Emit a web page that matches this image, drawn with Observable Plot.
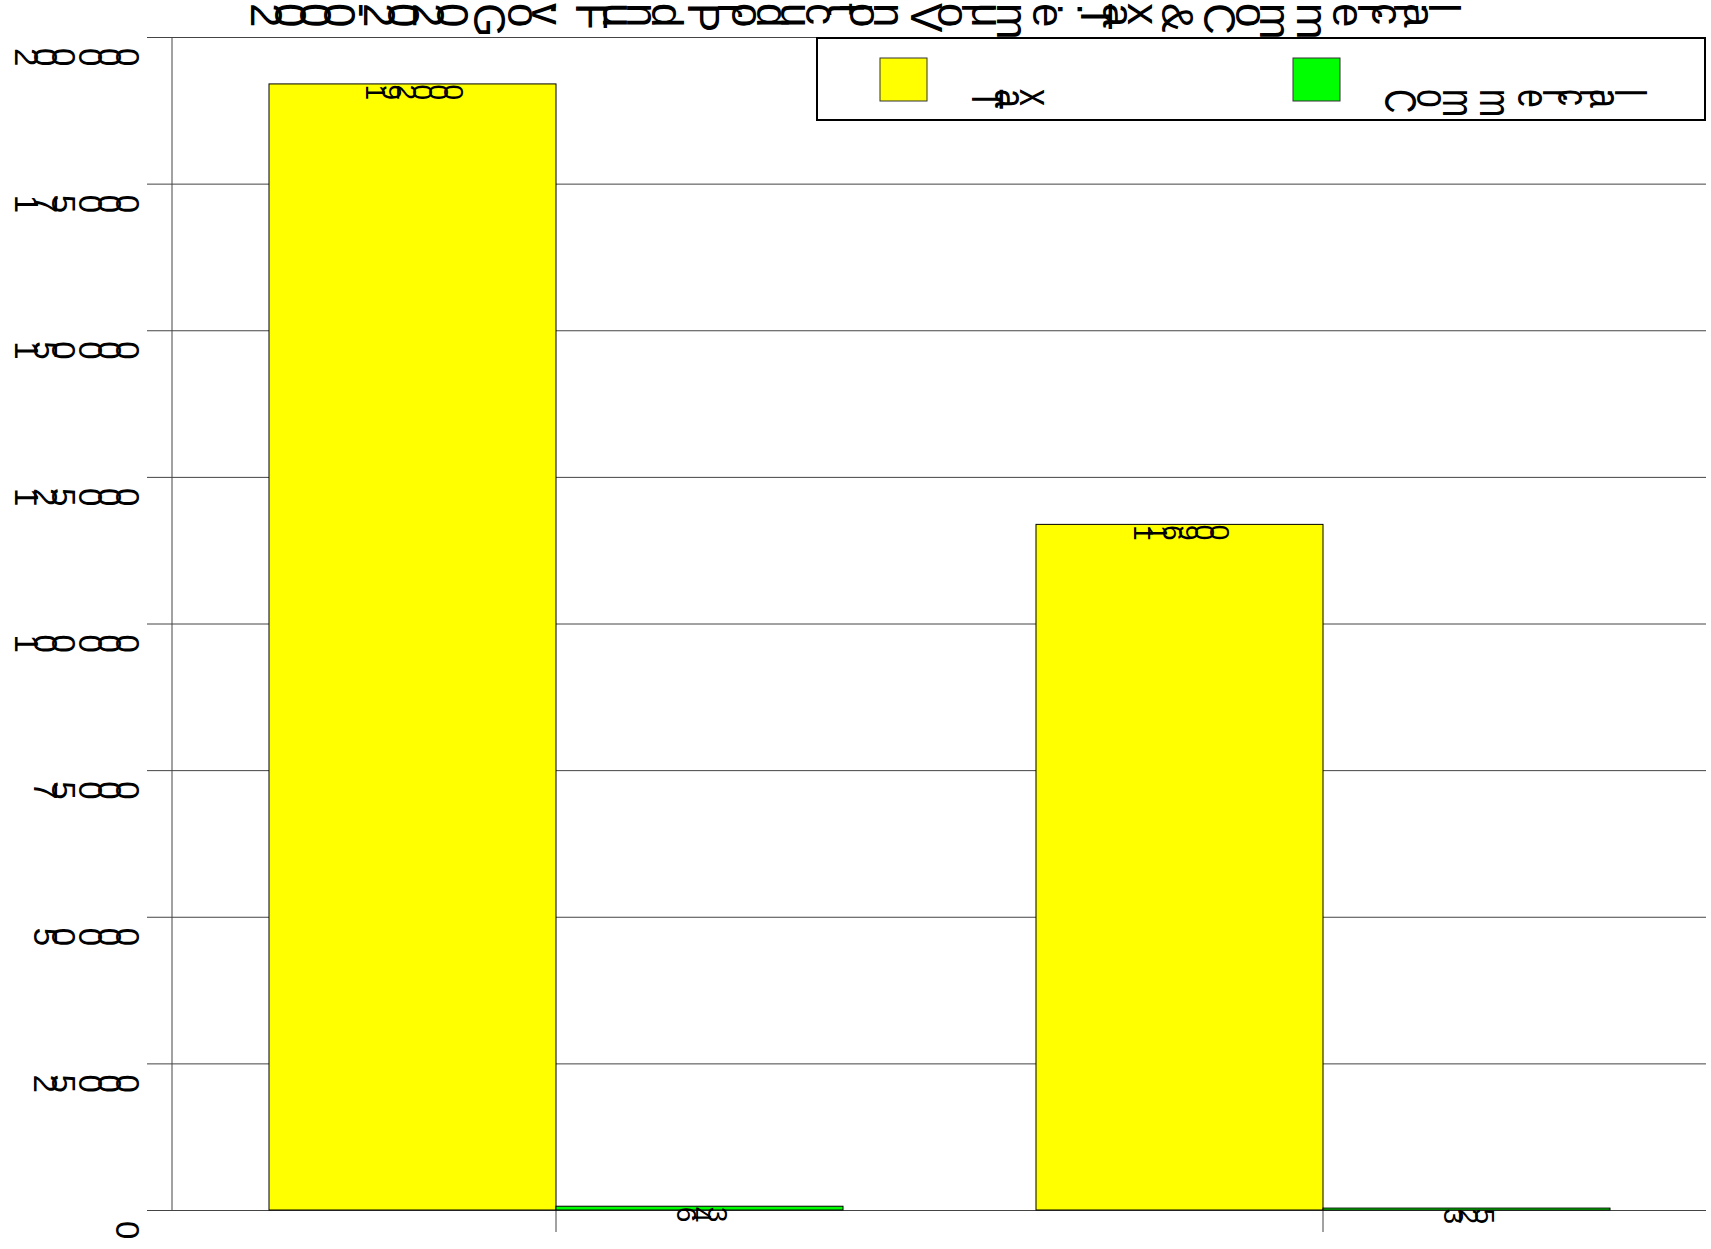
<!DOCTYPE html>
<html><head><meta charset="utf-8">
<script src="https://cdn.jsdelivr.net/npm/d3@7"></script>
<script src="https://cdn.jsdelivr.net/npm/@observablehq/plot@0.6"></script>
<style>
html,body{margin:0;padding:0;background:#fff;}
#chart svg{display:block;}
</style></head><body><div id="chart"></div>
<script>
// ---- data ----
const groups = ["2000", "2020"];
const series = ["Tax", "Commercial"];
const taxValues = [192000, 116900];
const commercialValues = [643, 325];
const seriesColors = ["#ffff00", "#00ff00"];
const yTicks = [0, 25000, 50000, 75000, 100000, 125000, 150000, 175000, 200000];
const titleText = "2000-2020 Gov. Fund Production Volume: Tax & Commercial";

const data = groups.flatMap((g, i) => [
  {group: g, series: series[0], value: taxValues[i]},
  {group: g, series: series[1], value: commercialValues[i]}
]);

const W = 1711, H = 1249;
const font = "'Liberation Sans', Arial, sans-serif";
const fmtTick = d => d3.format(",")(d).replace(/,/g, " ");

const chart = Plot.plot({
  width: W, height: H,
  marginLeft: 172, marginRight: 5, marginTop: 37, marginBottom: 39,
  style: {fontFamily: font, background: "#fff", overflow: "visible", color: "#000"},
  fx: {domain: groups, paddingInner: 0, paddingOuter: 0, label: null},
  x: {domain: series, paddingInner: 0, paddingOuter: 1/3, axis: null},
  y: {domain: [0, 200000], label: null},
  color: {domain: series, range: seriesColors},
  marks: [
    Plot.gridY(yTicks, {stroke: "#444", strokeOpacity: 1, strokeWidth: 1}),
    Plot.axisY(yTicks, {tickSize: 25, tickPadding: 13, fontSize: 33, tickFormat: fmtTick, label: null, stroke: "#444"}),
    Plot.axisFx({anchor: "bottom", tickSize: 22, tickFormat: () => "", label: null, stroke: "#444"}),
    Plot.barY(data, {fx: "group", x: "series", y: "value", fill: "series", stroke: "#000", strokeWidth: 1}),
    Plot.text(data, {fx: "group", x: "series", y: "value", text: d => d3.format("d")(d.value),
      fontSize: 28, lineAnchor: "bottom", fill: "#000"})
  ]
});

document.getElementById("chart").appendChild(chart);
const svg = d3.select(chart);
const yS = chart.scale("y");

// y axis line
svg.append("line")
  .attr("x1", 172).attr("x2", 172)
  .attr("y1", yS.apply(200000)).attr("y2", yS.apply(0))
  .attr("stroke", "#444");

// title
svg.append("text")
  .attr("x", 251).attr("y", 3)
  .attr("text-anchor", "start")
  .attr("font-family", font).attr("font-size", 44)
  .attr("fill", "#000")
  .text(titleText);

// legend
const lg = svg.append("g");
lg.append("rect").attr("x", 817).attr("y", 38).attr("width", 888).attr("height", 82)
  .attr("fill", "#fff").attr("stroke", "#000").attr("stroke-width", 2);
series.forEach((s, i) => {
  const x0 = 880 + i * 413;
  lg.append("rect").attr("x", x0).attr("y", 58).attr("width", 47).attr("height", 43)
    .attr("fill", seriesColors[i]).attr("stroke", "#333").attr("stroke-width", 1);
  lg.append("text")
    .attr("transform", `translate(${x0 + 92},89) scale(1,0.75)`)
    .attr("text-anchor", "start")
    .attr("font-family", font).attr("font-size", 45)
    .attr("fill", "#000")
    .text(s);
});

// per-glyph rotation
chart.querySelectorAll("text").forEach(t => t.setAttribute("rotate", "90"));
</script>
</body></html>
